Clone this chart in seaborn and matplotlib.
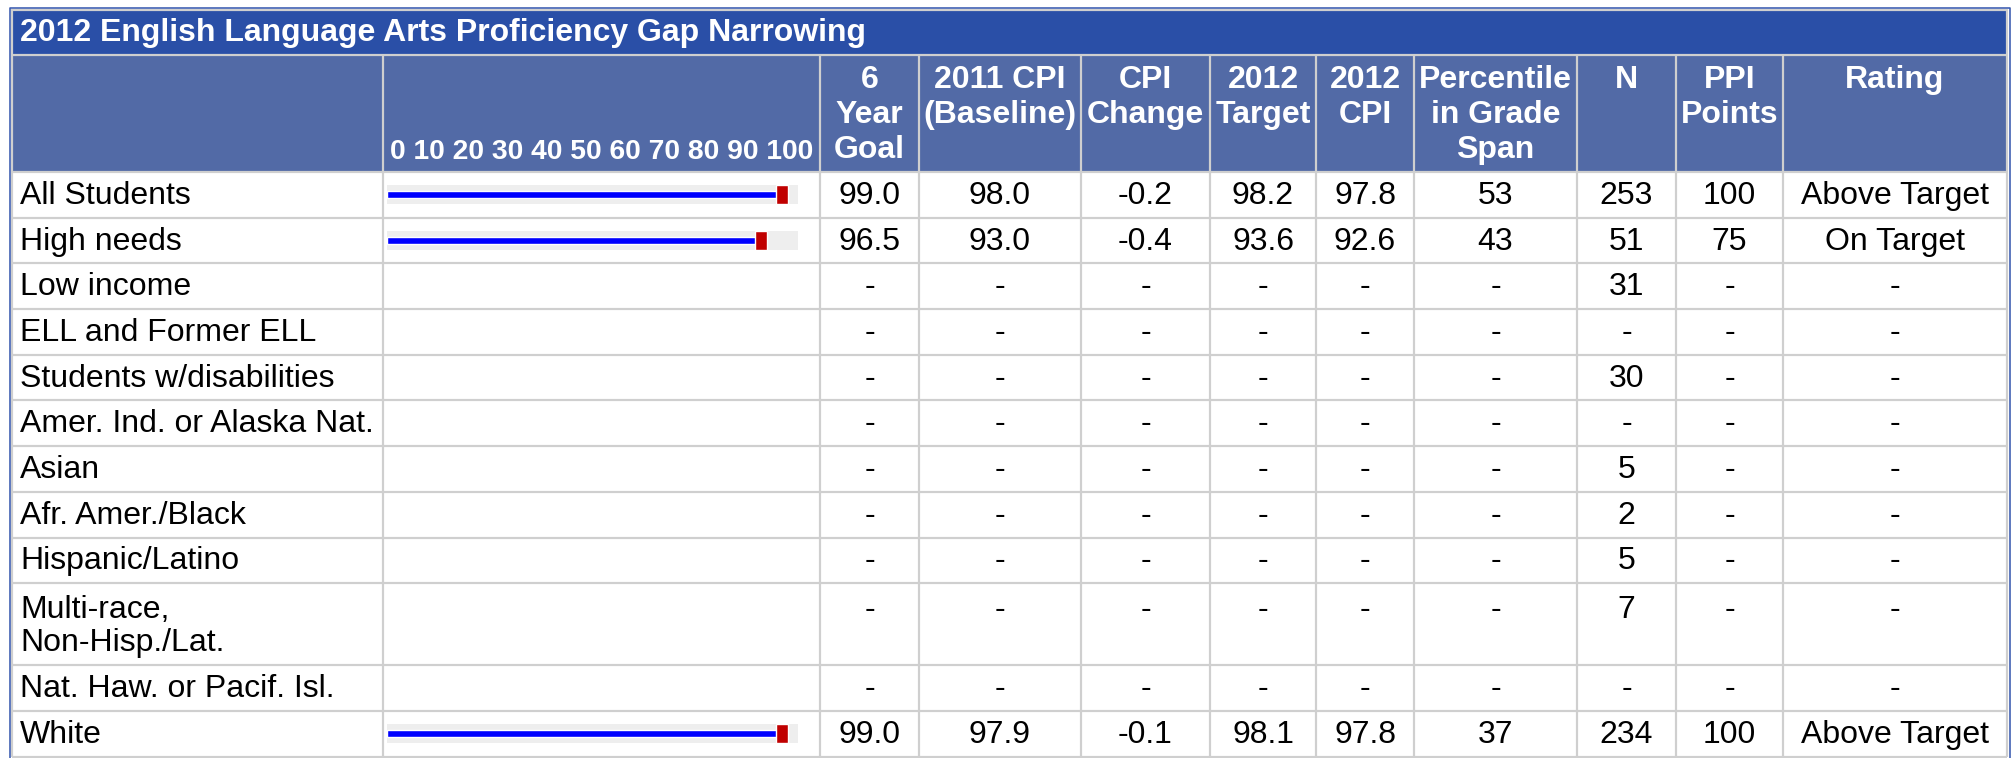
import matplotlib
matplotlib.use("Agg")
import matplotlib.pyplot as plt
import seaborn as sns
import pandas as pd
from matplotlib.patches import Rectangle

# ---------------- data ----------------
title = "2012 English Language Arts Proficiency Gap Narrowing"
groups = ["All Students", "High needs", "Low income", "ELL and Former ELL",
          "Students w/disabilities", "Amer. Ind. or Alaska Nat.", "Asian",
          "Afr. Amer./Black", "Hispanic/Latino", "Multi-race,\nNon-Hisp./Lat.",
          "Nat. Haw. or Pacif. Isl.", "White"]
goal_6yr = [99.0, 96.5, None, None, None, None, None, None, None, None, None, 99.0]
cpi_2011 = [98.0, 93.0, None, None, None, None, None, None, None, None, None, 97.9]
cpi_change = [-0.2, -0.4, None, None, None, None, None, None, None, None, None, -0.1]
target_2012 = [98.2, 93.6, None, None, None, None, None, None, None, None, None, 98.1]
cpi_2012 = [97.8, 92.6, None, None, None, None, None, None, None, None, None, 97.8]
percentile = [53, 43, None, None, None, None, None, None, None, None, None, 37]
n_students = [253, 51, 31, None, 30, None, 5, 2, 5, 7, None, 234]
ppi_points = [100, 75, None, None, None, None, None, None, None, None, None, 100]
rating = ["Above Target", "On Target", None, None, None, None, None, None, None, None, None, "Above Target"]
scale_ticks = [0, 10, 20, 30, 40, 50, 60, 70, 80, 90, 100]
headers = ["", "", "6\nYear\nGoal", "2011 CPI\n(Baseline)", "CPI\nChange", "2012\nTarget",
           "2012\nCPI", "Percentile\nin Grade\nSpan", "N", "PPI\nPoints", "Rating"]

# ---------------- style ----------------
sns.set_theme(style="white")
plt.rcParams['font.family'] = ['Liberation Sans', 'DejaVu Sans']

W, H, DPI = 2013, 758, 100
PT = 72 / DPI
TITLE_BG = "#2A4FA7"
HEAD_BG = "#526AA6"
GRID = "#CFCFCF"
BORDER = "#3A5BB0"
FONT_PX = 32
TICK_PX = 28.2

fig = plt.figure(figsize=(W / DPI, H / DPI), dpi=DPI)
fig.patch.set_facecolor("white")
ax = fig.add_axes([0, 0, 1, 1])
ax.set_xlim(0, W)
ax.set_ylim(H, 0)
ax.axis("off")

col_x = [12, 383, 820, 919, 1081, 1210, 1316, 1414, 1577, 1676, 1783, 2007]
title_top, head_top, head_bot = 10, 55, 172
row_h = [45.7] * 9 + [82] + [45.7, 45.7]
row_top = [head_bot]
for h in row_h:
    row_top.append(row_top[-1] + h)

# backgrounds
ax.add_patch(Rectangle((col_x[0], title_top), col_x[-1] - col_x[0], head_top - title_top,
                       facecolor=TITLE_BG, edgecolor="none", zorder=1))
ax.add_patch(Rectangle((col_x[0], head_top), col_x[-1] - col_x[0], head_bot - head_top,
                       facecolor=HEAD_BG, edgecolor="none", zorder=1))

# grid lines
lw = 2.2 * PT
for y in [head_top] + row_top:
    ax.plot([col_x[0], col_x[-1]], [y, y], color=GRID, lw=lw, zorder=2, solid_capstyle="butt")
for x in col_x:
    ax.plot([x, x], [head_top, row_top[-1]], color=GRID, lw=lw, zorder=2, solid_capstyle="butt")
ax.plot([col_x[0], col_x[0]], [title_top, head_top], color=GRID, lw=lw, zorder=2)
ax.plot([col_x[-1], col_x[-1]], [title_top, head_top], color=GRID, lw=lw, zorder=2)
ax.plot([col_x[0], col_x[-1]], [title_top, title_top], color=GRID, lw=lw, zorder=2)
# outer blue frame
ax.plot([9.5, 9.5, 2010, 2010], [H, 7.5, 7.5, H], color=BORDER, lw=1.6 * PT, zorder=3)

# title
ax.text(20, (title_top + head_top) / 2 + 1, title, color="white", fontsize=FONT_PX * PT,
        fontweight="bold", ha="left", va="center", zorder=4)

# headers
line_step = 35
for i, htxt in enumerate(headers):
    if not htxt:
        continue
    cx = (col_x[i] + col_x[i + 1]) / 2
    for k, line in enumerate(htxt.split("\n")):
        ax.text(cx, 80 + k * line_step, line, color="white", fontsize=FONT_PX * PT,
                fontweight="bold", ha="center", va="center", zorder=4)
ax.text((col_x[1] + col_x[2]) / 2, 152, " ".join(str(t) for t in scale_ticks), color="white",
        fontsize=TICK_PX * PT, fontweight="bold", ha="center", va="center", zorder=4)

# body
def fmt(v, dec):
    if v is None:
        return "-"
    return f"{v:.{dec}f}" if dec else str(v)

columns = [(goal_6yr, 1), (cpi_2011, 1), (cpi_change, 1), (target_2012, 1), (cpi_2012, 1),
           (percentile, 0), (n_students, 0), (ppi_points, 0), (rating, None)]
for r, g in enumerate(groups):
    top, bot = row_top[r], row_top[r + 1]
    lines = g.split("\n")
    if len(lines) == 1:
        yc = (top + bot) / 2 + 1
        ax.text(20, yc, g, fontsize=FONT_PX * PT, color="black", ha="left", va="center", zorder=4)
        yv = yc
    else:
        yv = top + 27
        for k, line in enumerate(lines):
            ax.text(20, yv + k * 33, line, fontsize=FONT_PX * PT, color="black",
                    ha="left", va="center", zorder=4)
    for c, (vals, dec) in enumerate(columns):
        cx = (col_x[c + 2] + col_x[c + 3]) / 2
        v = vals[r]
        s = ("-" if v is None else v) if dec is None else fmt(v, dec)
        ax.text(cx, yv, s, fontsize=FONT_PX * PT, color="black", ha="center", va="center", zorder=4)

    # inline bar chart
    if cpi_2012[r] is not None:
        yc = (top + bot) / 2
        bh = 19
        iax = fig.add_axes([387 / W, 1 - (yc + bh / 2) / H, 411 / W, bh / H])
        iax.set_facecolor("#EEEEEE")
        df = pd.DataFrame({"group": [g], "cpi": [cpi_2012[r]]})
        sns.barplot(data=df, x="cpi", y="group", orient="h", color="#0000FF", saturation=1,
                    width=7 / 19, ax=iax, zorder=2)
        iax.barh([0], [3], left=[cpi_2012[r] - 0.6], height=1.0, color="#C00000", zorder=3)
        iax.set_xlim(0, 102.75)
        iax.set_ylim(0.5, -0.5)
        iax.set_axis_off()
        iax.add_patch(Rectangle((0, -0.5), 102.75, 1, facecolor="#EEEEEE", edgecolor="none", zorder=0))

fig.savefig("out.png", dpi=DPI)
